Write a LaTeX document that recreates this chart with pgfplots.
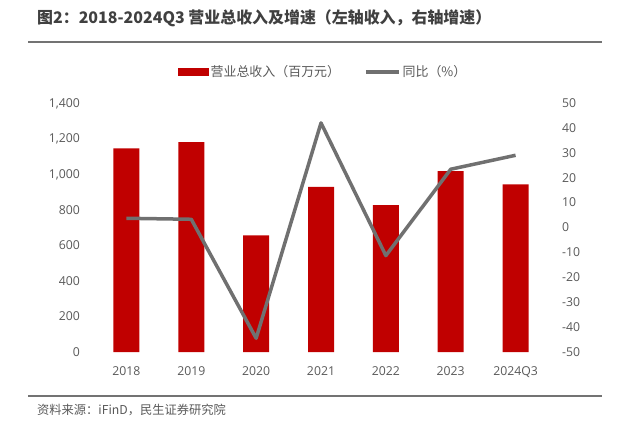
\documentclass[border=0pt]{standalone}
\usepackage{pgfplots}
\pgfplotsset{compat=1.18}
\usepackage{fontspec}
\setmainfont{Open Sans}
\newfontfamily\cjk{Noto Sans CJK SC}
\definecolor{barred}{HTML}{C00000}
\definecolor{linegray}{HTML}{707070}
\definecolor{txtgray}{HTML}{595959}
\definecolor{titlegray}{HTML}{404040}
\definecolor{rulegray}{HTML}{737373}
\begin{document}
\begin{tikzpicture}[x=1bp,y=1bp]
\useasboundingbox (0,0) rectangle (619,421);
\draw[rulegray, line width=1.8bp] (28,379)--(602,379);
\draw[rulegray, line width=1.8bp] (28,25)--(602,25);
\node[anchor=west, inner sep=0pt, text=titlegray] at (37,403) {\cjk\bfseries\fontsize{16}{19}\selectfont 图2：2018-2024Q3 营业总收入及增速（左轴收入，右轴增速）};
\node[anchor=west, inner sep=0pt, text=txtgray] at (37,11) {\cjk\fontsize{12.3}{14}\selectfont 资料来源：iFinD，民生证券研究院};
\begin{axis}[
  at={(94bp,69bp)}, anchor=south west,
  scale only axis, width=454bp, height=249bp,
  xmin=-0.5, xmax=6.5, ymin=0, ymax=1400,
  ytick={0,200,...,1400},
  xtick={0,...,6},
  xticklabels={2018,2019,2020,2021,2022,2023,2024Q3},
  axis line style={draw=none}, tick style={draw=none},
  major tick length=0pt,
  /pgf/number format/assume math mode=true,
  /pgf/number format/1000 sep={,},
  ticklabel style={font=\fontsize{12.3}{14}\selectfont, text=txtgray, inner sep=0pt},
  yticklabel style={anchor=east, xshift=-14bp, text height=8.7bp, text depth=0pt},
  xticklabel style={anchor=center, yshift=-19bp, text height=8.7bp, text depth=0pt},
  clip=false,
]
\addplot[ybar, bar width=26bp, fill=barred, draw=none] coordinates {
(0,1145) (1,1180) (2,656) (3,929) (4,826) (5,1017) (6,942)};
\end{axis}
\begin{axis}[
  at={(94bp,69bp)}, anchor=south west,
  scale only axis, width=454bp, height=249bp,
  xmin=-0.5, xmax=6.5, ymin=-50, ymax=50,
  ytick={-50,-40,...,50},
  xtick=\empty,
  axis y line*=right, axis x line=none,
  axis line style={draw=none}, tick style={draw=none},
  major tick length=0pt,
  /pgf/number format/assume math mode=true,
  ticklabel style={font=\fontsize{12.3}{14}\selectfont, text=txtgray, inner sep=0pt},
  yticklabel style={anchor=west, xshift=14bp, text height=8.7bp, text depth=0pt},
  clip=false,
  legend columns=2,
  legend style={at={(0.505,1.124)}, anchor=center, draw=none, fill=none,
    font=\cjk\fontsize{13}{15}\selectfont, text=txtgray,
    /tikz/every even column/.append style={column sep=22bp},
    inner sep=0pt},
]
\addlegendimage{legend image code/.code={\fill[barred] (0bp,-3.5bp) rectangle (30bp,3.5bp);}}
\addlegendentry{营业总收入（百万元）}
\addplot[linegray, line width=3.5bp, line join=round,
  legend image code/.code={\draw[linegray, line width=3.5bp] (0bp,0bp)--(33bp,0bp);}]
  coordinates {(0,3.7) (1,3.3) (2,-44.5) (3,42) (4,-11.3) (5,23.4) (6,29)};
\addlegendentry{同比（\%）}
\end{axis}
\end{tikzpicture}
\end{document}
